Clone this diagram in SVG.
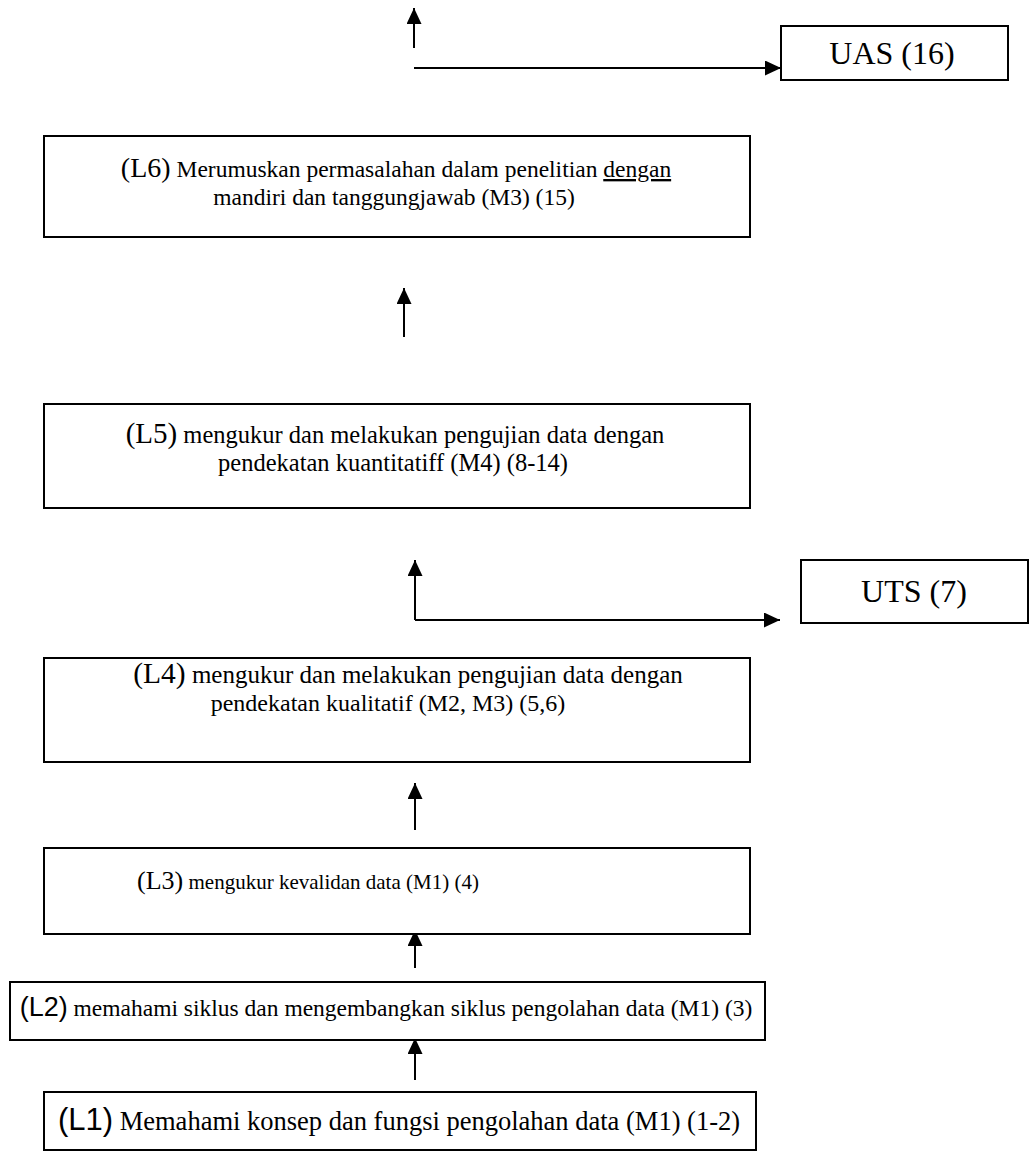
<svg xmlns="http://www.w3.org/2000/svg" width="1029" height="1151" viewBox="0 0 1029 1151">
<defs>
<marker id="ah" viewBox="0 0 16 16" refX="16" refY="8" markerWidth="16" markerHeight="15" markerUnits="userSpaceOnUse" orient="auto" preserveAspectRatio="none">
<path d="M0,0 L16,8 L0,16 z" fill="#000"/>
</marker>
<style>
.box{fill:#fff;stroke:#000;stroke-width:2}
.t{font-family:"Liberation Serif","Times New Roman",serif;fill:#000;text-anchor:middle}
.sans{font-family:"Liberation Sans",Arial,sans-serif}
.c{fill:none;stroke:#000;stroke-width:2;marker-end:url(#ah)}
</style>
</defs>
<rect width="1029" height="1151" fill="#fff"/>
<g id="connectors">
<line class="c" x1="414" y1="48" x2="414" y2="8"/>
<line class="c" x1="414" y1="68" x2="781" y2="68"/>
<line class="c" x1="404" y1="337" x2="404" y2="288"/>
<line class="c" x1="415" y1="620" x2="415" y2="560"/>
<line class="c" x1="415" y1="620" x2="780" y2="620"/>
<line class="c" x1="415" y1="830" x2="415" y2="783"/>
<line class="c" x1="415" y1="968" x2="415" y2="930"/>
<line class="c" x1="415" y1="1080" x2="415" y2="1038"/>
</g>
<g id="uas">
<rect class="box" x="781" y="26" width="227" height="54"/>
<text class="t" x="892" y="64" font-size="32">UAS (16)</text>
</g>
<g id="l6">
<rect class="box" x="44" y="136" width="706" height="101"/>
<text class="t" x="396" y="177" font-size="23.5"><tspan font-size="28">(L6)</tspan>  Merumuskan permasalahan dalam penelitian <tspan text-decoration="underline">dengan</tspan></text>
<text class="t" x="394" y="205" font-size="23.5">mandiri dan tanggungjawab (M3) (15)</text>
</g>
<g id="l5">
<rect class="box" x="44" y="404" width="706" height="104"/>
<text class="t" x="395" y="443" font-size="24.5"><tspan font-size="29">(L5)</tspan>  mengukur dan melakukan pengujian data dengan</text>
<text class="t" x="393" y="471" font-size="24.5">pendekatan kuantitatiff  (M4) (8-14)</text>
</g>
<g id="uts">
<rect class="box" x="801" y="560" width="227" height="63"/>
<text class="t" x="914" y="602" font-size="32">UTS (7)</text>
</g>
<g id="l4">
<rect class="box" x="44" y="658" width="706" height="104"/>
<text class="t" x="408" y="683" font-size="25"><tspan font-size="29.5">(L4)</tspan> mengukur dan melakukan pengujian data dengan</text>
<text class="t" x="388" y="711" font-size="24">pendekatan kualitatif  (M2, M3) (5,6)</text>
</g>
<g id="l3">
<rect class="box" x="44" y="848" width="706" height="86"/>
<text class="t" x="308" y="889" font-size="21"><tspan font-size="26">(L3)</tspan>  mengukur kevalidan data (M1) (4)</text>
</g>
<g id="l2">
<rect class="box" x="10" y="982" width="755" height="58"/>
<text class="t" x="386" y="1016" font-size="23.5"><tspan class="sans" font-size="27">(L2)</tspan> memahami siklus dan mengembangkan siklus pengolahan data (M1) (3)</text>
</g>
<g id="l1">
<rect class="box" x="44" y="1092" width="712" height="58"/>
<text class="t" x="399" y="1130" font-size="26.5"><tspan class="sans" font-size="31">(L1)</tspan> Memahami konsep dan fungsi pengolahan data (M1) (1-2)</text>
</g>
</svg>
